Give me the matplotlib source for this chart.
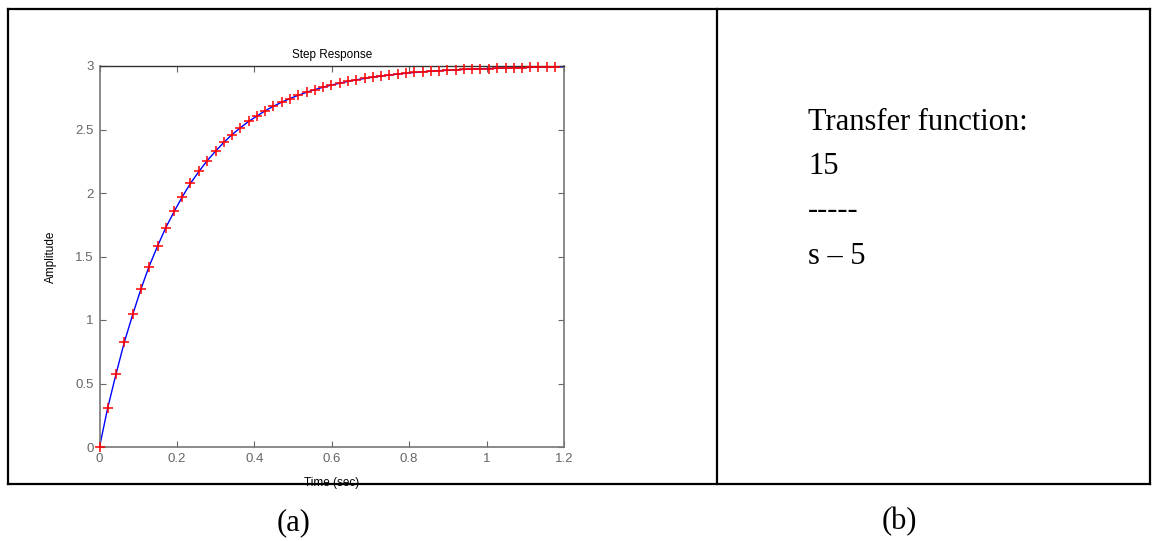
import numpy as np
import matplotlib
matplotlib.use("Agg")
import matplotlib.pyplot as plt
from matplotlib.lines import Line2D

# step response samples
time_sec = [0, 0.021, 0.043, 0.064, 0.086, 0.107, 0.128, 0.150, 0.171, 0.193,
            0.214, 0.235, 0.257, 0.278, 0.300, 0.321, 0.342, 0.364, 0.385, 0.407,
            0.428, 0.449, 0.471, 0.492, 0.514, 0.535, 0.556, 0.578, 0.599, 0.621,
            0.642, 0.663, 0.685, 0.706, 0.728, 0.749, 0.770, 0.792, 0.813, 0.835,
            0.856, 0.877, 0.899, 0.920, 0.942, 0.963, 0.984, 1.006, 1.027, 1.049,
            1.070, 1.091, 1.113, 1.134, 1.156, 1.177]
amplitude = [0, 0.305, 0.578, 0.824, 1.045, 1.243, 1.421, 1.582, 1.726, 1.855,
             1.971, 2.076, 2.170, 2.254, 2.330, 2.398, 2.459, 2.514, 2.563, 2.607,
             2.647, 2.683, 2.715, 2.744, 2.770, 2.793, 2.814, 2.833, 2.850, 2.865,
             2.879, 2.891, 2.902, 2.912, 2.921, 2.929, 2.936, 2.943, 2.949, 2.954,
             2.959, 2.963, 2.966, 2.970, 2.973, 2.976, 2.978, 2.980, 2.982, 2.984,
             2.986, 2.987, 2.989, 2.990, 2.991, 2.992]
line_end = (1.2, 2.993)

x_ticks = [0, 0.2, 0.4, 0.6, 0.8, 1, 1.2]
x_ticklabels = ["0", "0.2", "0.4", "0.6", "0.8", "1", "1.2"]
y_ticks = [0, 0.5, 1, 1.5, 2, 2.5, 3]
y_ticklabels = ["0", "0.5", "1", "1.5", "2", "2.5", "3"]

tf_lines = ["Transfer function:", "15", "-----", "s \u2013 5"]

W, H = 1152, 541
fig = plt.figure(figsize=(W / 100, H / 100), dpi=100)
fig.patch.set_facecolor("white")


def fx(px):
    return px / W


def fy(py):
    return 1 - py / H


# outer table box
box_kw = dict(color="black", lw=1.6, transform=fig.transFigure)
for xs, ys in [((8, 1150), (9, 9)), ((8, 1150), (484, 484)),
               ((8, 8), (9, 484)), ((1150, 1150), (9, 484)),
               ((717, 717), (9, 484))]:
    fig.add_artist(Line2D([fx(x) for x in xs], [fy(y) for y in ys], **box_kw))

# step response plot
ax = fig.add_axes([fx(99.5), fy(447), fx(564) - fx(99.5), fy(66) - fy(447)])
ax.plot(list(time_sec) + [line_end[0]], list(amplitude) + [line_end[1]],
        color="blue", lw=1.0, zorder=2)
ax.plot(time_sec, amplitude, linestyle="none", marker="+", color="red",
        markersize=7, markeredgewidth=1.1, zorder=3, clip_on=False)

ax.set_xlim(0, 1.2)
ax.set_ylim(0, 3)
ax.set_xticks(x_ticks)
ax.set_xticklabels(x_ticklabels)
ax.set_yticks(y_ticks)
ax.set_yticklabels(y_ticklabels)
ax.tick_params(direction="in", length=4, width=0.8, colors="#666666",
               labelsize=9.5, top=True, right=True, pad=4)
for lbl in ax.get_xticklabels() + ax.get_yticklabels():
    lbl.set_fontfamily("Liberation Sans")
for side in ["left", "right", "bottom"]:
    ax.spines[side].set_color("#777777")
    ax.spines[side].set_linewidth(1.2)
ax.spines["top"].set_color("#333333")
ax.spines["top"].set_linewidth(1.0)

ax.set_title("Step Response", fontsize=8.5, family="Liberation Sans", pad=6)
ax.set_xlabel("Time (sec)", fontsize=8.5, family="Liberation Sans", labelpad=9)
ax.set_ylabel("Amplitude", fontsize=8.5, family="Liberation Sans", labelpad=13)

# transfer function text
serif = "Liberation Serif"
line_y = [122, 166, 211, 256]
for txt, y in zip(tf_lines, line_y):
    fig.text(fx(808), fy(y), txt, fontsize=22, family=serif,
             ha="left", va="center")

# sub-captions
fig.text(fx(294), fy(523), "(a)", fontsize=22, family=serif, ha="center", va="center")
fig.text(fx(899), fy(522), "(b)", fontsize=22, family=serif, ha="center", va="center")

fig.savefig("out.png", dpi=100)
